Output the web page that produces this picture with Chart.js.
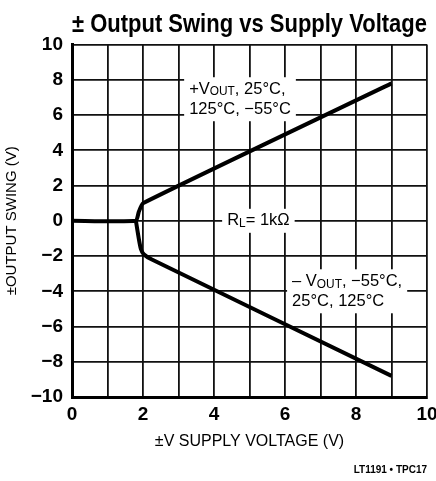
<!DOCTYPE html>
<html>
<head>
<meta charset="utf-8">
<script src="https://cdn.jsdelivr.net/npm/chart.js@4.4.0/dist/chart.umd.min.js"></script>
<style>
  html, body { margin: 0; padding: 0; background: #fff; }
  #wrap { width: 436px; height: 481px; }
</style>
</head>
<body>
<div id="wrap"><canvas id="swingChart" width="436" height="481"></canvas></div>
<script>
// values
const posSupply = [0, 1.8, 1.88, 2.0, 9];
const posSwing = [0, 0, 0.5, 1.0, 7.8];
const negSupply = [1.8, 1.88, 1.94, 2.02, 2.25, 9];
const negSwing = [0, -1.0, -1.6, -1.9, -2.2, -8.8];
const xTicks = [0, 2, 4, 6, 8, 10];
const yTicks = [-10, -8, -6, -4, -2, 0, 2, 4, 6, 8, 10];

const FONT = '"Liberation Sans Narrow", "Liberation Sans", Arial, sans-serif';
const ctx = document.getElementById('swingChart').getContext('2d');

const toPoints = (xs, ys) => xs.map((x, i) => ({ x: x, y: ys[i] }));
const minus = v => (v < 0 ? '\u2212' + Math.abs(v) : String(v));

// text pieces with subscripts, drawn on a white box over the grid
function drawRich(c, x, y, parts, size) {
  let cx = x;
  parts.forEach(p => {
    const fs = p.sub ? size * 0.72 : size;
    c.font = fs + 'px ' + FONT;
    c.fillText(p.t, cx, y + (p.sub ? size * 0.18 : 0));
    cx += c.measureText(p.t).width;
  });
  return cx - x;
}

const notes = [
  { x: 3.3, y: 6.9, lines: [[{ t: '+V' }, { t: 'OUT', sub: true }, { t: ', 25°C,' }], [{ t: '125°C, \u221255°C' }]] },
  { x: 4.37, y: 0, lines: [[{ t: 'R' }, { t: 'L', sub: true }, { t: '= 1k\u03A9' }]] },
  { x: 6.2, y: -4.0, lines: [[{ t: '\u2013 V' }, { t: 'OUT', sub: true }, { t: ', \u221255°C,' }], [{ t: '25°C, 125°C' }]] }
];

const notesPlugin = {
  id: 'notes',
  afterDraw(chart) {
    const c = chart.ctx;
    const xs = chart.scales.x, ys = chart.scales.y;
    const size = 16.5, lh = 20;
    c.save();
    c.textBaseline = 'middle';
    c.textAlign = 'left';
    notes.forEach(n => {
      const px = xs.getPixelForValue(n.x);
      const py = ys.getPixelForValue(n.y);
      // measure
      let w = 0;
      n.lines.forEach(l => {
        let lw = 0;
        l.forEach(p => {
          c.font = (p.sub ? size * 0.72 : size) + 'px ' + FONT;
          lw += c.measureText(p.t).width;
        });
        w = Math.max(w, lw);
      });
      const h = n.lines.length * lh;
      c.fillStyle = '#fff';
      c.fillRect(px - 5, py - h / 2 - 2, w + 10, h + 4);
      c.fillStyle = '#000';
      n.lines.forEach((l, i) => {
        drawRich(c, px, py - h / 2 + lh * (i + 0.5), l, size);
      });
    });
    // part number in the corner
    c.font = 'bold 10px ' + FONT;
    c.textAlign = 'right';
    c.fillText('LT1191 \u2022 TPC17', 427, 470);
    c.restore();
  }
};

new Chart(ctx, {
  type: 'line',
  data: {
    datasets: [
      { label: '+Vout', data: toPoints(posSupply, posSwing), borderColor: '#000', borderWidth: 4, pointRadius: 0, tension: 0.15 },
      { label: '-Vout', data: toPoints(negSupply, negSwing), borderColor: '#000', borderWidth: 4, pointRadius: 0, tension: 0.15 }
    ]
  },
  options: {
    responsive: false,
    animation: false,
    layout: { padding: { left: 0, right: 9, top: 0, bottom: 0 } },
    plugins: {
      legend: { display: false },
      tooltip: { enabled: false },
      title: {
        display: true,
        fullSize: false,
        text: '\u00B1 Output Swing vs Supply Voltage',
        color: '#000',
        font: { family: FONT, size: 25.5, weight: 'bold' },
        padding: { top: 10, bottom: 4 }
      }
    },
    scales: {
      x: {
        type: 'linear',
        min: 0, max: 10,
        afterFit: s => { s.height = 84; s.paddingLeft = 0; s.paddingRight = 0; },
        afterBuildTicks: s => { s.ticks = Array.from({ length: 11 }, (_, i) => ({ value: i })); },
        ticks: {
          color: '#000', padding: 6,
          font: { family: FONT, size: 19, weight: 'bold' },
          callback: v => (xTicks.includes(v) ? minus(v) : '')
        },
        grid: { color: '#111', lineWidth: 1.8, drawTicks: false },
        border: { color: '#000', width: 3 },
        title: {
          display: true, text: '\u00B1V SUPPLY VOLTAGE (V)', color: '#000',
          font: { family: FONT, size: 16 }, padding: { top: 10, bottom: 30 }
        }
      },
      y: {
        type: 'linear',
        min: -10, max: 10,
        afterFit: s => { s.width = 72; },
        afterBuildTicks: s => { s.ticks = Array.from({ length: 21 }, (_, i) => ({ value: i - 10 })); },
        ticks: {
          color: '#000', padding: 9,
          font: { family: FONT, size: 19, weight: 'bold' },
          callback: v => (yTicks.includes(v) ? minus(v) : '')
        },
        grid: { color: '#111', lineWidth: 1.8, drawTicks: false },
        border: { color: '#000', width: 3 },
        title: {
          display: true, text: '\u00B1OUTPUT SWING (V)', color: '#000',
          font: { family: FONT, size: 15 }, padding: { top: 3, bottom: 0 }
        }
      }
    }
  },
  plugins: [notesPlugin]
});
</script>
</body>
</html>
